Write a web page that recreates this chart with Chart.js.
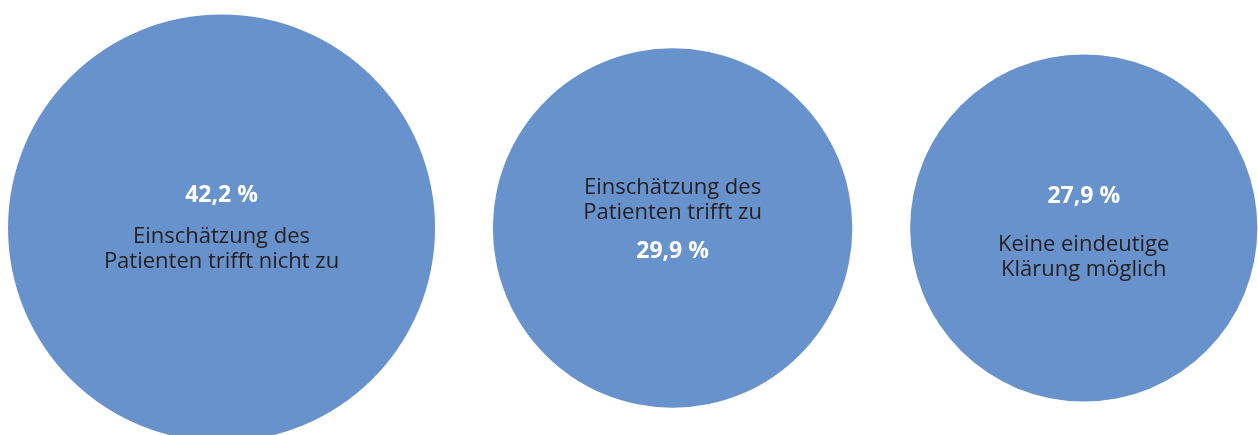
<!DOCTYPE html>
<html>
<head>
<meta charset="utf-8">
<script src="https://cdn.jsdelivr.net/npm/chart.js@4.4.1/dist/chart.umd.min.js"></script>
<style>
  html, body { margin: 0; padding: 0; background: #fff; }
  #wrap { width: 1258px; height: 435px; position: relative; }
</style>
</head>
<body>
<div id="wrap"><canvas id="bubbleChart"></canvas></div>
<script>
// data
var categories = [
  ['Einschätzung des', 'Patienten trifft nicht zu'],
  ['Einschätzung des', 'Patienten trifft zu'],
  ['Keine eindeutige', 'Klärung möglich']
];
var shares = [42.2, 29.9, 27.9];
var shareLabels = ['42,2 %', '29,9 %', '27,9 %'];

(function(){
  var fillColor = '#6892cb';
  var textDark = '#231f20';
  var fontFamily = '"Open Sans", "Noto Sans", sans-serif';

  // circle area proportional to share
  var pxPerSqrt = 32.87;
  var leftEdge = 8;
  var gap = 57.8;

  // text placement per bubble (percent above or below the label)
  var offsets = [
    { pct: -33, lines: [9, 34] },
    { pct: 23, lines: [-40, -15] },
    { pct: -32, lines: [17, 42] }
  ];

  function radiusOf(i){ return pxPerSqrt * Math.sqrt(shares[i]); }

  // centres follow from radii + constant gap between circles
  var points = [];
  var cursor = leftEdge;
  shares.forEach(function(v, i){
    var r = radiusOf(i);
    points.push({ x: cursor + r, y: 0 });
    cursor += 2 * r + gap;
  });

  var labelPlugin = {
    id: 'bubbleLabels',
    afterDatasetsDraw: function(chart){
      var ctx = chart.ctx;
      var meta = chart.getDatasetMeta(0);
      ctx.save();
      ctx.textAlign = 'center';
      ctx.textBaseline = 'middle';
      meta.data.forEach(function(el, i){
        var o = offsets[i];
        ctx.font = 'bold 23px ' + fontFamily;
        ctx.fillStyle = '#ffffff';
        ctx.fillText(shareLabels[i], el.x, el.y + o.pct);
        ctx.font = '22px ' + fontFamily;
        ctx.fillStyle = textDark;
        categories[i].forEach(function(line, j){
          ctx.fillText(line, el.x, el.y + o.lines[j]);
        });
      });
      ctx.restore();
    }
  };

  new Chart(document.getElementById('bubbleChart').getContext('2d'), {
    type: 'bubble',
    data: {
      datasets: [{
        data: points,
        clip: false,
        backgroundColor: fillColor,
        hoverBackgroundColor: fillColor,
        borderWidth: 0,
        hoverBorderWidth: 0,
        radius: function(c){ return radiusOf(c.dataIndex); },
        hoverRadius: 0
      }]
    },
    options: {
      responsive: true,
      maintainAspectRatio: false,
      animation: false,
      events: [],
      layout: { autoPadding: false, padding: { top: 21, left: 0, right: 0, bottom: 0 } },
      scales: {
        x: { type: 'linear', min: 0, max: 1258, display: false },
        y: { type: 'linear', min: -1, max: 1, display: false }
      },
      plugins: {
        legend: { display: false },
        tooltip: { enabled: false }
      }
    },
    plugins: [labelPlugin]
  });
})();
</script>
</body>
</html>
